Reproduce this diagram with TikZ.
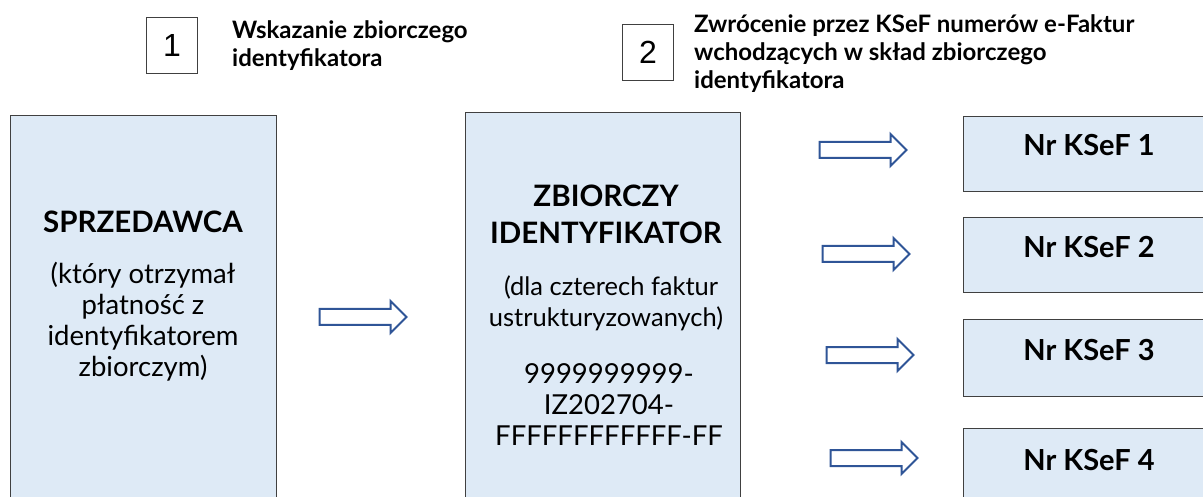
\documentclass[tikz,border=0pt]{standalone}
\usepackage{fontspec}
\setmainfont{Lato}
\newfontfamily\numfont{Liberation Sans}
\usetikzlibrary{shapes.arrows}
\definecolor{boxfill}{HTML}{DEEAF6}
\definecolor{boxline}{HTML}{404040}
\definecolor{arrowblue}{HTML}{2F5597}
\tikzset{
  bigbox/.style={draw=boxline, line width=0.9pt, fill=boxfill, anchor=north west, inner sep=0pt},
  numbox/.style={draw=boxline, line width=0.9pt, minimum width=51pt, minimum height=56pt, inner sep=0pt, font=\numfont\fontsize{32}{34}\selectfont},
  headtxt/.style={anchor=west, align=left, inner sep=0pt, font=\bfseries\fontsize{24}{28}\selectfont},
  titletxt/.style={align=center, inner sep=0pt, font=\bfseries\fontsize{29.5}{37}\selectfont},
  bodytxt/.style={align=center, inner sep=0pt, font=\fontsize{27.5}{31}\selectfont},
  subtxt/.style={align=center, inner sep=0pt, font=\fontsize{25.5}{31}\selectfont},
  kseftxt/.style={inner sep=0pt, font=\bfseries\fontsize{29}{32}\selectfont},
  blockarrow/.style={single arrow, draw=arrowblue, fill=white, line width=2pt,
    minimum height=87pt, minimum width=30pt, single arrow head extend=8pt,
    inner xsep=0pt, inner ysep=7pt, outer sep=0pt},
}
\begin{document}
\begin{tikzpicture}[x=1pt,y=-1pt]
\useasboundingbox (0,0) rectangle (1203,497);
\clip (0,0) rectangle (1203,497);
% header
\node[numbox] (n1) at (172,45) {1};
\node[headtxt] (h1) at (232,46) {Wskazanie zbiorczego\\identyfikatora};
\node[numbox] (n2) at (648,52.5) {2};
\node[headtxt] (h2) at (694,54) {Zwrócenie przez KSeF numerów e-Faktur\\wchodzących w skład zbiorczego\\identyfikatora};
% left box
\node[bigbox, minimum width=266pt, minimum height=400pt] (sell) at (10,115) {};
\node[titletxt] (sellt) at (143,222) {SPRZEDAWCA};
\node[bodytxt] (sellb) at (143,322) {(który otrzymał\\płatność z\\identyfikatorem\\zbiorczym)};
% middle box
\node[bigbox, minimum width=275pt, minimum height=400pt] (zb) at (465,112) {};
\node[titletxt] (zbt) at (606,214) {ZBIORCZY\\IDENTYFIKATOR};
\node[subtxt] (zbs) at (606,303.5) {\hspace{0.4em}(dla czterech faktur\\ustrukturyzowanych)};
\node[bodytxt] (zbn) at (609,405) {9999999999-\\IZ202704-\\FFFFFFFFFFFF-FF};
% KSeF boxes
\node[bigbox, minimum width=260pt, minimum height=75pt] (k1) at (963,116) {};
\node[bigbox, minimum width=260pt, minimum height=75pt] (k2) at (963,217) {};
\node[bigbox, minimum width=260pt, minimum height=77pt] (k3) at (963,319) {};
\node[bigbox, minimum width=260pt, minimum height=100pt] (k4) at (963,428) {};
\node[kseftxt] (k1t) at (1089,145) {Nr KSeF 1};
\node[kseftxt] (k2t) at (1089,247) {Nr KSeF 2};
\node[kseftxt] (k3t) at (1089,350) {Nr KSeF 3};
\node[kseftxt] (k4t) at (1089,460) {Nr KSeF 4};
% arrows
\node[blockarrow] (a0) at (359,317) {};
\node[blockarrow] (a1) at (859,150) {};
\node[blockarrow] (a2) at (862,254) {};
\node[blockarrow] (a3) at (866,355) {};
\node[blockarrow] (a4) at (870,458) {};
\end{tikzpicture}
\end{document}
